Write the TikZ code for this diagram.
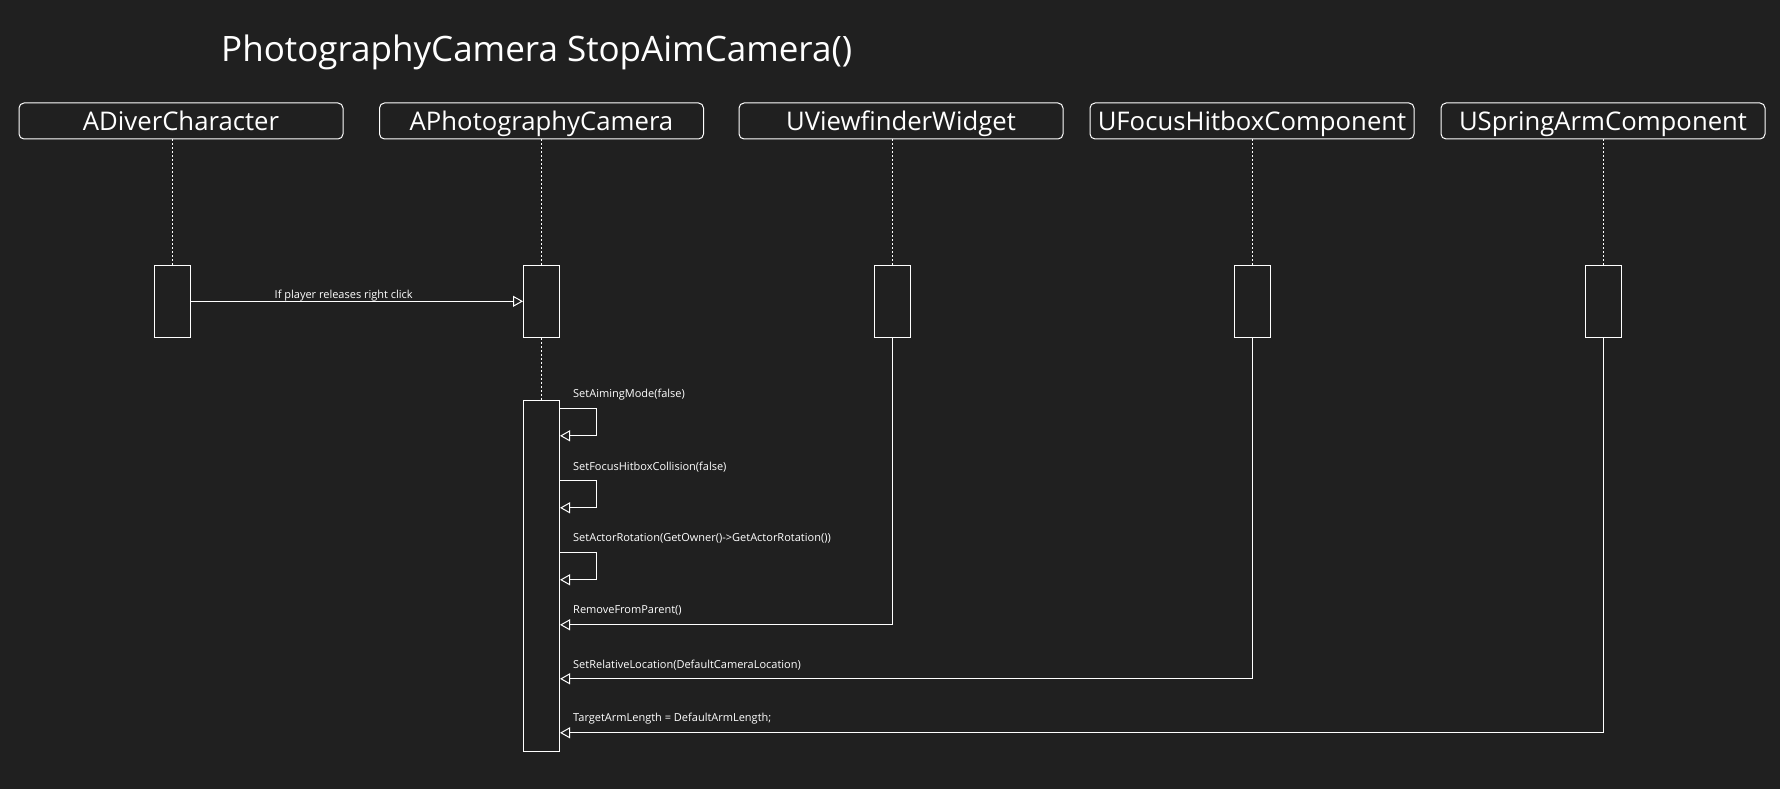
\documentclass[tikz,border=0pt]{standalone}
\usepackage{fontspec}
\setmainfont{Open Sans}
\usetikzlibrary{arrows.meta,calc}
\definecolor{bg}{HTML}{202020}

\tikzset{
  head/.style={draw=white, fill=bg, text=white, rounded corners=5pt, line width=1pt,
    minimum width=324pt, minimum height=36pt, inner sep=0pt, text height=20pt, text depth=1pt,
    font=\fontsize{25.7}{30}\selectfont},
  act/.style={draw=white, fill=bg, line width=1pt, minimum width=36pt, inner sep=0pt},
  life/.style={white, line width=0.8pt, dash pattern=on 2pt off 2pt},
  msg/.style={white, line width=1pt, -{Triangle[open,length=10pt,width=11pt]}},
  lbl/.style={text=white, anchor=west, inner sep=0pt, font=\fontsize{11}{13}\selectfont},
}

\begin{document}
\begin{tikzpicture}[x=1pt,y=-1pt]
\fill[bg] (0,0) rectangle (1780,789);
\node[text=white, anchor=west, inner sep=0pt, font=\fontsize{35}{42}\selectfont] (title) at (221,52) {PhotographyCamera StopAimCamera()};

% participants
\node[head] (diver) at (181,121) {ADiverCharacter};
\node[head] (camera) at (541.5,121) {APhotographyCamera};
\node[head] (viewfinder) at (901,121) {UViewfinderWidget};
\node[head] (focus) at (1252,121) {UFocusHitboxComponent};
\node[head] (spring) at (1603,121) {USpringArmComponent};

% activations
\node[act, minimum height=72pt] (diver-a) at (172.5,301.3) {};
\node[act, minimum height=72pt] (camera-a) at (541.5,301.3) {};
\node[act, minimum height=72pt] (viewfinder-a) at (892,301.3) {};
\node[act, minimum height=72pt] (focus-a) at (1252,301.3) {};
\node[act, minimum height=72pt] (spring-a) at (1603,301.3) {};
\node[act, minimum height=351pt] (camera-b) at (541.5,575.8) {};

% lifelines
\foreach \n in {diver,camera,viewfinder,focus,spring} {
	\draw[life] (\n-a.north) -- (\n-a.north |- \n.south);
}
\draw[life] (camera-a.south) -- (camera-b.north);

\draw[msg] (diver-a) -- node[pos=0.46, above=0pt, lbl, anchor=south] (click) {If player releases right click} (camera-a);

% calls on itself
\foreach \dy/\txt in {9/{SetAimingMode(false)}, 81/{SetFocusHitboxCollision(false)}, 153/{SetActorRotation(GetOwner()->GetActorRotation())}} {
	\draw[msg] ($(camera-b.north east)+(0,\dy)$) -- ++(36,0) -- ++(0,27) -- ++(-36,0);
	\node[lbl] (self-\dy) at ($(camera-b.north east)+(13,\dy-14)$) {\txt};
}

% calls from the components
\foreach \src/\dy/\txt in {viewfinder/225/{RemoveFromParent()}, focus/279/{SetRelativeLocation(DefaultCameraLocation)}, spring/333/{TargetArmLength = DefaultArmLength;}} {
	\coordinate (\src-r) at ($(camera-b.north east)+(0,\dy)$);
	\draw[msg] (\src-a.south) |- (\src-r);
	\node[lbl] (\src-l) at ($(\src-r)+(13,-14)$) {\txt};
}
\end{tikzpicture}
\end{document}
